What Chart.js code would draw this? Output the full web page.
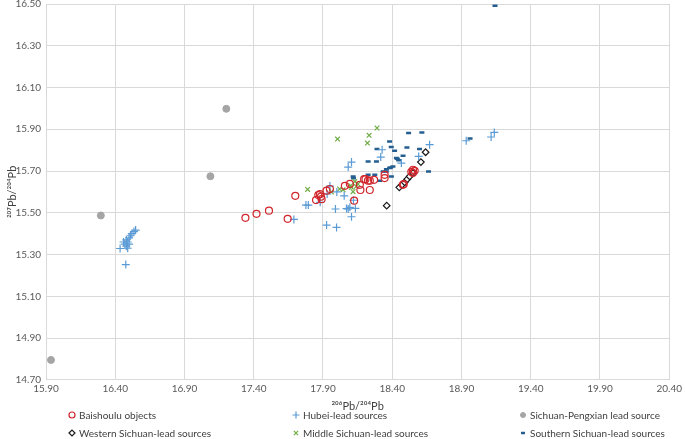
<!DOCTYPE html>
<html lang="en">
<head>
<meta charset="UTF-8">
<title>Pb isotope plot</title>
<script src="https://cdn.jsdelivr.net/npm/chart.js"></script>
<style>
  body { margin: 0; background: #fff; overflow: hidden; }
  #wrap { width: 685px; height: 446px; margin-top: -7px; }
</style>
</head>
<body>
<div id="wrap"><canvas id="pbChart"></canvas></div>
<script>
// [206Pb/204Pb, 207Pb/204Pb]
const baishoulu = [
  [17.34, 15.476], [17.42, 15.495], [17.51, 15.51], [17.645, 15.471], [17.70, 15.581],
  [17.85, 15.561], [17.866, 15.585], [17.878, 15.589], [17.885, 15.577], [17.89, 15.565],
  [17.926, 15.606], [17.95, 15.614], [18.058, 15.629], [18.094, 15.638], [18.125, 15.558],
  [18.166, 15.634], [18.17, 15.609], [18.197, 15.661], [18.207, 15.661], [18.225, 15.654],
  [18.238, 15.609], [18.238, 15.654], [18.269, 15.658], [18.345, 15.682], [18.345, 15.666],
  [18.477, 15.634], [18.483, 15.637], [18.538, 15.696], [18.549, 15.69], [18.55, 15.706],
  [18.562, 15.701]
];
const hubei = [
  [16.435, 15.329], [16.476, 15.252], [16.46, 15.36], [16.47, 15.35], [16.48, 15.34],
  [16.49, 15.36], [16.49, 15.33], [16.48, 15.37], [16.50, 15.38], [16.50, 15.35],
  [16.51, 15.39], [16.52, 15.40], [16.535, 15.41], [16.547, 15.417],
  [17.69, 15.468], [17.777, 15.537], [17.794, 15.537], [17.926, 15.441], [17.998, 15.43],
  [17.99, 15.518], [18.082, 15.518], [18.094, 15.526], [18.134, 15.521], [18.106, 15.481],
  [17.95, 15.628], [17.93, 15.59], [17.88, 15.55], [18.0, 15.60], [18.053, 15.581],
  [18.07, 15.52], [18.12, 15.56], [18.106, 15.743], [18.082, 15.719], [18.327, 15.802],
  [18.317, 15.767], [18.466, 15.738], [18.67, 15.826], [18.591, 15.77], [18.934, 15.845],
  [19.114, 15.863], [19.137, 15.885]
];
const pengxian = [
  [15.936, 14.795], [16.296, 15.487], [17.087, 15.675], [17.202, 15.998]
];
const westernSichuan = [
  [18.36, 15.534], [18.451, 15.622], [18.47, 15.634], [18.49, 15.646], [18.509, 15.661],
  [18.526, 15.674], [18.55, 15.69], [18.607, 15.743], [18.641, 15.79]
];
const middleSichuan = [
  [17.789, 15.612], [18.005, 15.853], [18.221, 15.834], [18.233, 15.871], [18.29, 15.906],
  [17.96, 15.60], [18.02, 15.614], [18.045, 15.61], [18.105, 15.622], [18.117, 15.601],
  [18.13, 15.65], [18.14, 15.626], [18.153, 15.638], [18.1, 15.63]
];
const southernSichuan = [
  [19.142, 16.492], [18.962, 15.856], [18.518, 15.882], [18.614, 15.885], [18.381, 15.842],
  [18.29, 15.805], [18.393, 15.815], [18.417, 15.797], [18.478, 15.773], [18.437, 15.759],
  [18.446, 15.751], [18.506, 15.813], [18.597, 15.805], [18.226, 15.746], [18.286, 15.746],
  [18.389, 15.717], [18.358, 15.709], [18.334, 15.698], [18.394, 15.674], [18.274, 15.682],
  [18.226, 15.682], [18.662, 15.698], [18.118, 15.674], [18.309, 15.654], [18.357, 15.698],
  [18.381, 15.714], [18.43, 15.762], [18.405, 15.722], [18.12, 15.665]
];

const xMin = 15.9, xMax = 20.4, xStep = 0.5;
const yMin = 14.7, yMax = 16.5, yStep = 0.2;

const toPoints = arr => arr.map(p => ({ x: p[0], y: p[1] }));

// legend grid (canvas coords; canvas starts 7px above the page top)
const legendCols = [72, 296, 523];
const legendRows = [422, 440];
const legendSlots = [[0, 0], [1, 0], [2, 0], [0, 1], [1, 1], [2, 1]];

const legendPlugin = {
  id: 'gridLegend',
  afterDraw(chart) {
    const ctx = chart.ctx;
    ctx.save();
    ctx.font = '10px Lato, "Open Sans", sans-serif';
    ctx.textBaseline = 'middle';
    chart.data.datasets.forEach((ds, i) => {
      const x = legendCols[legendSlots[i][0]];
      const y = legendRows[legendSlots[i][1]];
      ctx.save();
      ctx.strokeStyle = ds.borderColor;
      ctx.fillStyle = ds.backgroundColor;
      ctx.lineWidth = ds.borderWidth;
      Chart.helpers.drawPoint(ctx, {
        pointStyle: ds.pointStyle,
        radius: ds.legendRadius,
        borderWidth: ds.borderWidth,
        rotation: 0
      }, x, y);
      ctx.restore();
      ctx.fillStyle = '#404040';
      ctx.fillText(ds.label, x + 7, y + 0.5);
    });
    ctx.restore();
  }
};

new Chart(document.getElementById('pbChart'), {
  type: 'scatter',
  data: {
    datasets: [
      {
        label: 'Baishoulu objects', data: toPoints(baishoulu),
        pointStyle: 'circle', pointRadius: 3.5, borderWidth: 1.2, legendRadius: 3,
        borderColor: '#d0262c', backgroundColor: 'rgba(255,255,255,0)'
      },
      {
        label: 'Hubei-lead sources', data: toPoints(hubei),
        pointStyle: 'cross', pointRadius: 4, borderWidth: 1.2, legendRadius: 3.5,
        borderColor: '#5b9bd5', backgroundColor: '#5b9bd5'
      },
      {
        label: 'Sichuan-Pengxian lead source', data: toPoints(pengxian),
        pointStyle: 'circle', pointRadius: 3.5, borderWidth: 1, legendRadius: 2.5,
        borderColor: '#a5a5a5', backgroundColor: '#a5a5a5'
      },
      {
        label: 'Western Sichuan-lead sources', data: toPoints(westernSichuan),
        pointStyle: 'rectRot', pointRadius: 3.3, borderWidth: 1.2, legendRadius: 3,
        borderColor: '#1a1a1a', backgroundColor: '#ffffff'
      },
      {
        label: 'Middle Sichuan-lead sources', data: toPoints(middleSichuan),
        pointStyle: 'crossRot', pointRadius: 3.3, borderWidth: 1.2, legendRadius: 3,
        borderColor: '#70ad47', backgroundColor: '#70ad47'
      },
      {
        label: 'Southern Sichuan-lead sources', data: toPoints(southernSichuan),
        pointStyle: 'line', pointRadius: 2.5, borderWidth: 2.5, legendRadius: 2,
        borderColor: '#255e91', backgroundColor: '#255e91'
      }
    ]
  },
  options: {
    responsive: true,
    maintainAspectRatio: false,
    animation: false,
    layout: { padding: { left: 0, right: 10, top: 0, bottom: 26 } },
    scales: {
      x: {
        type: 'linear', min: xMin, max: xMax,
        ticks: {
          stepSize: xStep, color: '#595959',
          font: { size: 10, family: 'Lato, "Open Sans", sans-serif' },
          callback: v => v.toFixed(2)
        },
        grid: { color: '#d9d9d9', drawTicks: false },
        border: { color: '#d9d9d9' },
        title: {
          display: true, text: '²⁰⁶Pb/²⁰⁴Pb', color: '#404040',
          font: { size: 11, family: 'Lato, "Open Sans", sans-serif' }, padding: { top: 2, bottom: 0 }
        }
      },
      y: {
        type: 'linear', min: yMin, max: yMax,
        afterFit(scale) { scale.width = 46; },
        ticks: {
          stepSize: yStep, color: '#595959', padding: 5,
          font: { size: 10, family: 'Lato, "Open Sans", sans-serif' },
          callback: v => v.toFixed(2)
        },
        grid: { color: '#d9d9d9', drawTicks: false },
        border: { color: '#d9d9d9' },
        title: {
          display: true, text: '²⁰⁷Pb/²⁰⁴Pb', color: '#404040',
          font: { size: 11, family: 'Lato, "Open Sans", sans-serif' }, padding: { top: 6, bottom: 0 }
        }
      }
    },
    plugins: {
      legend: { display: false },
      tooltip: { enabled: false }
    }
  },
  plugins: [legendPlugin]
});
</script>
</body>
</html>
